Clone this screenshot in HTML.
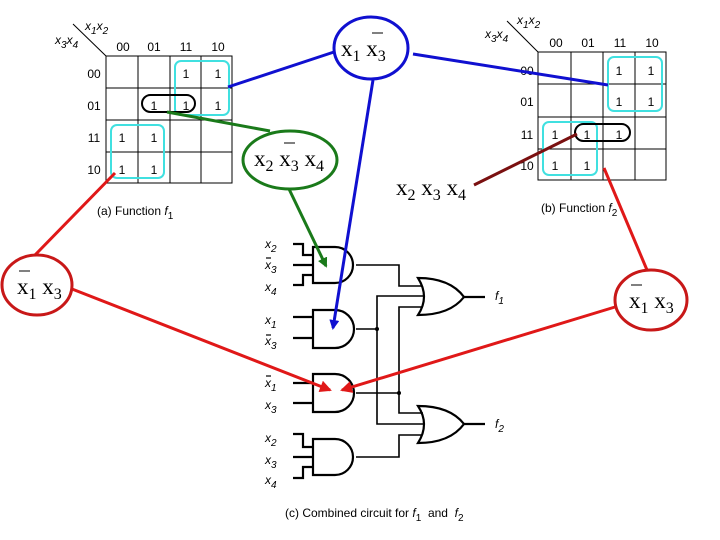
<!DOCTYPE html>
<html><head><meta charset="utf-8"><style>
html,body{margin:0;padding:0;background:#fff;}
svg{display:block;}
.s{font-family:"Liberation Sans",sans-serif;font-size:12px;fill:#000;}
.i{font-style:italic;}
.m{font-family:"Liberation Serif",serif;font-size:23px;fill:#000;}
</style></head><body>
<svg width="720" height="540" viewBox="0 0 720 540" xmlns="http://www.w3.org/2000/svg">
<defs>
<marker id="ag" markerWidth="10" markerHeight="10" refX="8" refY="5" orient="auto" markerUnits="userSpaceOnUse"><path d="M0,0 L10,5 L0,10 z" fill="#1a7a1a"/></marker>
<marker id="ab" markerWidth="10" markerHeight="10" refX="8" refY="5" orient="auto" markerUnits="userSpaceOnUse"><path d="M0,0 L10,5 L0,10 z" fill="#1010d0"/></marker>
<marker id="ar" markerWidth="12" markerHeight="12" refX="10" refY="6" orient="auto" markerUnits="userSpaceOnUse"><path d="M0,0 L12,6 L0,12 z" fill="#e01818"/></marker>
</defs>

<!-- Left K-map -->
<g stroke="#000" stroke-width="1" fill="none">
<rect x="106" y="56" width="126" height="127"/>
<line x1="138" y1="56" x2="138" y2="183"/><line x1="170" y1="56" x2="170" y2="183"/><line x1="201" y1="56" x2="201" y2="183"/>
<line x1="106" y1="88" x2="232" y2="88"/><line x1="106" y1="120" x2="232" y2="120"/><line x1="106" y1="152" x2="232" y2="152"/>
<line x1="73" y1="24" x2="106" y2="56"/>
</g>
<text class="s i" x="85" y="30">x<tspan dy="4" font-size="10">1</tspan><tspan dy="-4">x</tspan><tspan dy="4" font-size="10">2</tspan></text>
<text class="s i" x="55" y="44">x<tspan dy="4" font-size="10">3</tspan><tspan dy="-4">x</tspan><tspan dy="4" font-size="10">4</tspan></text>
<g class="s" text-anchor="middle">
<text x="123" y="51">00</text><text x="154" y="51">01</text><text x="186" y="51">11</text><text x="218" y="51">10</text>
<text x="94" y="78">00</text><text x="94" y="110">01</text><text x="94" y="142">11</text><text x="94" y="174">10</text>
<text x="186" y="78">1</text><text x="218" y="78">1</text>
<text x="154" y="110">1</text><text x="186" y="110">1</text><text x="218" y="110">1</text>
<text x="122" y="142">1</text><text x="154" y="142">1</text>
<text x="122" y="174">1</text><text x="154" y="174">1</text>
</g>
<rect x="175" y="61" width="54" height="54" rx="6" fill="none" stroke="#40e0e0" stroke-width="2"/>
<rect x="111" y="125" width="53" height="53" rx="6" fill="none" stroke="#40e0e0" stroke-width="2"/>
<rect x="142" y="95" width="53" height="17" rx="8.5" fill="none" stroke="#000" stroke-width="2"/>
<text class="s" x="97" y="215">(a) Function <tspan class="i">f</tspan><tspan dy="4" font-size="10">1</tspan></text>

<!-- Right K-map -->
<g stroke="#000" stroke-width="1" fill="none">
<rect x="538" y="52" width="128" height="128"/>
<line x1="571" y1="52" x2="571" y2="180"/><line x1="603" y1="52" x2="603" y2="180"/><line x1="635" y1="52" x2="635" y2="180"/>
<line x1="538" y1="84" x2="666" y2="84"/><line x1="538" y1="117" x2="666" y2="117"/><line x1="538" y1="149" x2="666" y2="149"/>
<line x1="507" y1="21" x2="538" y2="52"/>
</g>
<text class="s i" x="517" y="24">x<tspan dy="4" font-size="10">1</tspan><tspan dy="-4">x</tspan><tspan dy="4" font-size="10">2</tspan></text>
<text class="s i" x="485" y="38">x<tspan dy="4" font-size="10">3</tspan><tspan dy="-4">x</tspan><tspan dy="4" font-size="10">4</tspan></text>
<g class="s" text-anchor="middle">
<text x="556" y="47">00</text><text x="588" y="47">01</text><text x="620" y="47">11</text><text x="652" y="47">10</text>
<text x="527" y="75">00</text><text x="527" y="106">01</text><text x="527" y="139">11</text><text x="527" y="170">10</text>
<text x="619" y="75">1</text><text x="651" y="75">1</text>
<text x="619" y="106">1</text><text x="651" y="106">1</text>
<text x="555" y="139">1</text><text x="587" y="139">1</text><text x="619" y="139">1</text>
<text x="555" y="170">1</text><text x="587" y="170">1</text>
</g>
<rect x="608" y="57" width="54" height="54" rx="6" fill="none" stroke="#40e0e0" stroke-width="2"/>
<rect x="543" y="122" width="54" height="53" rx="6" fill="none" stroke="#40e0e0" stroke-width="2"/>
<rect x="575" y="124" width="55" height="17" rx="8.5" fill="none" stroke="#000" stroke-width="2"/>
<text class="s" x="541" y="212">(b) Function <tspan class="i">f</tspan><tspan dy="4" font-size="10">2</tspan></text>

<!-- Circuit -->
<g stroke="#000" stroke-width="2.2" fill="none">
<path d="M313,247 H335 A18,18 0 0 1 335,283 H313 Z"/>
<path d="M293,244 H303 V255 H313 M293,265 H313 M293,285 H303 V275 H313"/>
<path d="M313,310 H335 A19,19 0 0 1 335,348 H313 Z"/>
<path d="M293,317 H313 M293,338 H313"/>
<path d="M313,374 H335 A19,19 0 0 1 335,412 H313 Z"/>
<path d="M293,383 H313 M293,403 H313"/>
<path d="M313,439 H335 A18,18 0 0 1 335,475 H313 Z"/>
<path d="M293,434 H303 V447 H313 M293,457 H313 M293,478 H303 V467 H313"/>
<path d="M418,278 Q450,278 464,297 Q450,315 418,315 Q430,297 418,278 Z"/>
<path d="M464,297 H485"/>
<path d="M418,406 Q450,406 464,424 Q450,443 418,443 Q430,424 418,406 Z"/>
<path d="M464,424 H485"/>
</g>
<g stroke="#000" stroke-width="1.6" fill="none">
<path d="M356,265 H399 V286 H422"/>
<path d="M356,329 H377 M423,296 H377 V424 H423"/>
<path d="M356,393 H399 M423,307 H399 V413 H423"/>
<path d="M356,457 H399 V435 H421"/>
</g>
<circle cx="377" cy="329" r="2" fill="#000"/>
<circle cx="399" cy="393" r="2" fill="#000"/>
<g class="s i">
<text x="265" y="248">x<tspan dy="4" font-size="10">2</tspan></text>
<text x="265" y="269">x<tspan dy="4" font-size="10">3</tspan></text>
<text x="265" y="291">x<tspan dy="4" font-size="10">4</tspan></text>
<text x="265" y="324">x<tspan dy="4" font-size="10">1</tspan></text>
<text x="265" y="345">x<tspan dy="4" font-size="10">3</tspan></text>
<text x="265" y="387">x<tspan dy="4" font-size="10">1</tspan></text>
<text x="265" y="409">x<tspan dy="4" font-size="10">3</tspan></text>
<text x="265" y="442">x<tspan dy="4" font-size="10">2</tspan></text>
<text x="265" y="464">x<tspan dy="4" font-size="10">3</tspan></text>
<text x="265" y="484">x<tspan dy="4" font-size="10">4</tspan></text>
<text x="495" y="300">f<tspan dy="4" font-size="10">1</tspan></text>
<text x="495" y="428">f<tspan dy="4" font-size="10">2</tspan></text>
</g>
<g stroke="#000" stroke-width="1.2">
<line x1="266" y1="258" x2="271" y2="258"/>
<line x1="266" y1="335" x2="271" y2="335"/>
<line x1="266" y1="376" x2="271" y2="376"/>
</g>
<text class="s" x="285" y="517">(c) Combined circuit for <tspan class="i">f</tspan><tspan dy="4" font-size="10">1</tspan><tspan dy="-4" xml:space="preserve">  and  </tspan><tspan class="i">f</tspan><tspan dy="4" font-size="10">2</tspan></text>

<!-- Blue -->
<g stroke="#1010d0" stroke-width="3" fill="none">
<ellipse cx="371" cy="48" rx="37" ry="31"/>
<line x1="228" y1="87" x2="334" y2="52"/>
<line x1="413" y1="54" x2="608" y2="85"/>
<line x1="373" y1="80" x2="333" y2="328" marker-end="url(#ab)"/>
</g>
<text class="m" x="341" y="56">x<tspan dy="5" font-size="16">1</tspan><tspan dy="-5"> x</tspan><tspan dy="5" font-size="16">3</tspan></text>
<line x1="372" y1="33" x2="383" y2="33" stroke="#000" stroke-width="1"/>

<!-- Green -->
<g stroke="#1a7a1a" stroke-width="3" fill="none">
<ellipse cx="290" cy="160" rx="47" ry="29"/>
<line x1="167" y1="112" x2="270" y2="131"/>
<line x1="289" y1="189" x2="326" y2="266" marker-end="url(#ag)"/>
</g>
<text class="m" x="254" y="166">x<tspan dy="5" font-size="16">2</tspan><tspan dy="-5"> x</tspan><tspan dy="5" font-size="16">3</tspan><tspan dy="-5"> x</tspan><tspan dy="5" font-size="16">4</tspan></text>
<line x1="284" y1="143" x2="295" y2="143" stroke="#000" stroke-width="1"/>

<!-- Dark red -->
<line x1="474" y1="185" x2="577" y2="134" stroke="#7a1010" stroke-width="3"/>
<text class="m" x="396" y="195">x<tspan dy="5" font-size="16">2</tspan><tspan dy="-5"> x</tspan><tspan dy="5" font-size="16">3</tspan><tspan dy="-5"> x</tspan><tspan dy="5" font-size="16">4</tspan></text>

<!-- Red -->
<g stroke="#e01818" stroke-width="3" fill="none">
<line x1="35" y1="255" x2="115" y2="173"/>
<line x1="72" y1="289" x2="330" y2="390" marker-end="url(#ar)"/>
<line x1="647" y1="270" x2="604" y2="168"/>
<line x1="615" y1="307" x2="342" y2="390" marker-end="url(#ar)"/>
</g>
<g stroke="#c81818" stroke-width="3" fill="#fff">
<ellipse cx="37" cy="285" rx="35" ry="30"/>
<ellipse cx="651" cy="300" rx="36" ry="30"/>
</g>
<text class="m" x="17" y="294">x<tspan dy="5" font-size="16">1</tspan><tspan dy="-5"> x</tspan><tspan dy="5" font-size="16">3</tspan></text>
<line x1="19" y1="271" x2="30" y2="271" stroke="#000" stroke-width="1"/>
<text class="m" x="629" y="308">x<tspan dy="5" font-size="16">1</tspan><tspan dy="-5"> x</tspan><tspan dy="5" font-size="16">3</tspan></text>
<line x1="631" y1="285" x2="642" y2="285" stroke="#000" stroke-width="1"/>
</svg>
</body></html>
